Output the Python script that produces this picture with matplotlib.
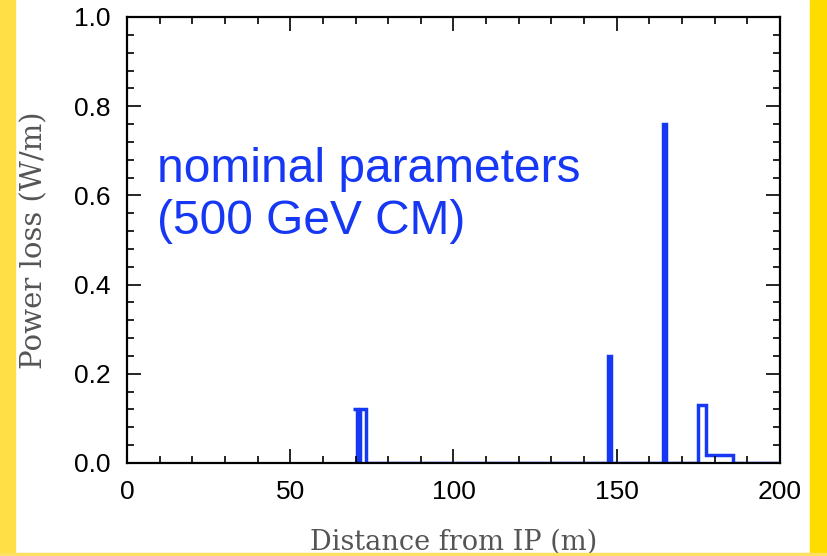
import matplotlib
matplotlib.use("Agg")
import matplotlib.pyplot as plt
from matplotlib.patches import Rectangle
from matplotlib.ticker import MultipleLocator, FormatStrFormatter

# step histogram of power loss along the beam line
edges = [69.3, 70.3, 71.5, 73.1, 147.2, 148.2, 164.1, 165.1, 175.0, 177.3, 185.5, 200.0]
power = [0.12, 0.0, 0.12, 0.0, 0.24, 0.0, 0.76, 0.0, 0.13, 0.017, 0.0]

blue = "#1638f5"

fig = plt.figure(figsize=(8.28, 5.56), dpi=100)

# yellow slide borders
fig.patches.append(Rectangle((0, 0), 15 / 828, 1, transform=fig.transFigure,
                             color="#ffdf45", zorder=0))
fig.patches.append(Rectangle((810 / 828, 0), 18 / 828, 1, transform=fig.transFigure,
                             color="#ffdc00", zorder=0))
fig.patches.append(Rectangle((0, 0), 1, 3 / 556, transform=fig.transFigure,
                             color="#ffe060", zorder=0))

ax = fig.add_axes([127 / 828, 1 - 463 / 556, (780 - 127) / 828, (463 - 17) / 556])
ax.stairs(power, edges, color=blue, linewidth=2.5, baseline=None)

ax.set_xlim(0, 200)
ax.set_ylim(0, 1.0)
ax.xaxis.set_major_locator(MultipleLocator(50))
ax.xaxis.set_minor_locator(MultipleLocator(10))
ax.yaxis.set_major_locator(MultipleLocator(0.2))
ax.yaxis.set_minor_locator(MultipleLocator(0.04))
ax.yaxis.set_major_formatter(FormatStrFormatter("%.1f"))
ax.tick_params(which="both", direction="in", top=True, right=True, width=1.2)
ax.tick_params(which="major", length=10, labelsize=19)
ax.tick_params(axis="x", which="major", pad=12)
ax.tick_params(axis="y", which="major", pad=12)
ax.tick_params(which="minor", length=5)
for lab in ax.get_xticklabels() + ax.get_yticklabels():
    lab.set_fontfamily("Liberation Sans")
for s in ax.spines.values():
    s.set_linewidth(1.6)

ax.set_xlabel("Distance from IP (m)", family="DejaVu Serif", fontsize=19.5,
              color="#555555", labelpad=18)
ax.set_ylabel("Power loss (W/m)", family="DejaVu Serif", fontsize=21,
              color="#555555", labelpad=18)

ax.text(0.046, 0.60, "nominal parameters\n(500 GeV CM)", transform=ax.transAxes,
        color=blue, fontsize=34.5, family="Liberation Sans", linespacing=1.2,
        va="center", ha="left")

fig.savefig("out.png", dpi=100)
